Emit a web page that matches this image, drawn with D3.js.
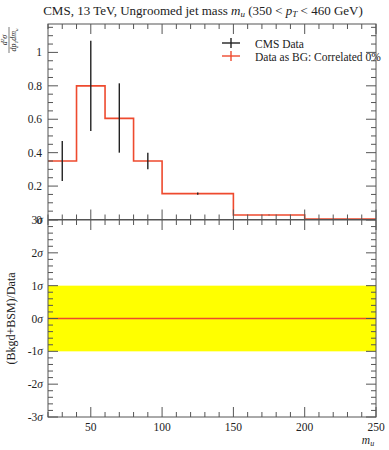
<!DOCTYPE html>
<html>
<head>
<meta charset="utf-8">
<script src="https://cdn.jsdelivr.net/npm/d3@7"></script>
<style>
  body { margin: 0; background: #fff; }
  text { font-family: "Liberation Serif", "DejaVu Serif", serif; fill: #222; }
</style>
</head>
<body>
<div id="container"></div>
<script>
// bin edges and values
const binEdges = [20, 40, 60, 80, 100, 150, 200, 250]
const mcValues = [0.35, 0.80, 0.605, 0.35, 0.155, 0.027, 0.002]
const dataValues = [0.35, 0.80, 0.605, 0.35, 0.155, 0.027, 0.002]
const dataLow = [0.23, 0.53, 0.40, 0.30, 0.148, 0.025, 0.001]
const dataHigh = [0.47, 1.07, 0.815, 0.40, 0.162, 0.029, 0.003]
const xTickLabels = [50, 100, 150, 200, 250]
const yTopLabels = [0, 0.2, 0.4, 0.6, 0.8, 1]
const yBotLabels = [-3, -2, -1, 0, 1, 2, 3]
const legendNames = ["CMS Data", "Data as BG: Correlated 0%"]

const width = 389
const height = 450
const red = "#ee4a2e"

const svg = d3.select("#container").append("svg")
    .attr("width", width)
    .attr("height", height)

const x = d3.scaleLinear().domain([20, 250]).range([48, 376])
const yTop = d3.scaleLinear().domain([0, 1.17]).range([219.5, 24])
const yBot = d3.scaleLinear().domain([-3, 3]).range([417, 220])

// title
const title = svg.append("text")
    .attr("x", 203)
    .attr("y", 15)
    .attr("text-anchor", "middle")
    .attr("font-size", 13)
title.append("tspan").text("CMS, 13 TeV, Ungroomed jet mass ")
title.append("tspan").attr("font-style", "italic").text("m")
title.append("tspan").attr("font-style", "italic").attr("font-size", 9).attr("dy", 2).text("u")
title.append("tspan").attr("dy", -2).text(" (350 < ")
title.append("tspan").attr("font-style", "italic").text("p")
title.append("tspan").attr("font-style", "italic").attr("font-size", 9).attr("dy", 2).text("T")
title.append("tspan").attr("dy", -2).text(" < 460 GeV)")

// lower panel band
svg.append("rect")
    .attr("x", x(20))
    .attr("y", yBot(1))
    .attr("width", x(250) - x(20))
    .attr("height", yBot(-1) - yBot(1))
    .attr("fill", "#ffff00")
svg.append("line")
    .attr("x1", x(20)).attr("x2", x(250))
    .attr("y1", yBot(0)).attr("y2", yBot(0))
    .attr("stroke", red).attr("stroke-width", 1.5)

// histogram step line
const steps = []
mcValues.forEach((v, i) => {
    steps.push([binEdges[i], v])
    steps.push([binEdges[i + 1], v])
})
svg.append("path")
    .attr("d", d3.line().x(d => x(d[0])).y(d => yTop(d[1]))(steps))
    .attr("fill", "none")
    .attr("stroke", red)
    .attr("stroke-width", 1.6)

// data error bars
const centers = mcValues.map((_, i) => (binEdges[i] + binEdges[i + 1]) / 2)
svg.append("g").selectAll("line")
    .data(dataValues)
    .enter().append("line")
    .attr("x1", (d, i) => x(centers[i]))
    .attr("x2", (d, i) => x(centers[i]))
    .attr("y1", (d, i) => yTop(dataLow[i]))
    .attr("y2", (d, i) => yTop(dataHigh[i]))
    .attr("stroke", "#222")
    .attr("stroke-width", 1.4)

// frames
const axisColor = "#555"
function frame(y0, y1) {
    svg.append("rect")
        .attr("x", x(20)).attr("y", y0)
        .attr("width", x(250) - x(20)).attr("height", y1 - y0)
        .attr("fill", "none").attr("stroke", axisColor).attr("stroke-width", 1)
}
frame(yTop.range()[1], yTop.range()[0])
frame(yBot.range()[1], yBot.range()[0])

// x ticks on both panels
const xMinor = d3.range(20, 251, 10)
function xTicks(yEdge, dir) {
    svg.append("g").selectAll("line")
        .data(xMinor)
        .enter().append("line")
        .attr("x1", d => x(d)).attr("x2", d => x(d))
        .attr("y1", yEdge)
        .attr("y2", d => yEdge + dir * (d % 50 === 0 ? 10 : 5))
        .attr("stroke", axisColor)
}
xTicks(yTop.range()[0], -1)
xTicks(yTop.range()[1], 1)
xTicks(yBot.range()[1], 1)
xTicks(yBot.range()[0], -1)

// y ticks
function yTicks(scale, minorStep, majorStep) {
    const [lo, hi] = scale.domain()
    const vals = d3.range(Math.ceil(lo / minorStep - 1e-6), Math.floor(hi / minorStep + 1e-6) + 1).map(k => k * minorStep)
    const isMajor = d => Math.abs(d / majorStep - Math.round(d / majorStep)) < 1e-6
    const g = svg.append("g")
    g.selectAll(".l").data(vals).enter().append("line")
        .attr("x1", x(20)).attr("x2", d => x(20) + (isMajor(d) ? 10 : 5))
        .attr("y1", d => scale(d)).attr("y2", d => scale(d))
        .attr("stroke", axisColor)
    g.selectAll(".r").data(vals).enter().append("line")
        .attr("x1", x(250)).attr("x2", d => x(250) - (isMajor(d) ? 10 : 5))
        .attr("y1", d => scale(d)).attr("y2", d => scale(d))
        .attr("stroke", axisColor)
}
yTicks(yTop, 0.05, 0.2)
yTicks(yBot, 0.2, 1)

// tick labels
svg.append("g").selectAll("text")
    .data(yTopLabels)
    .enter().append("text")
    .attr("x", 42)
    .attr("y", d => yTop(d) + 4)
    .attr("text-anchor", "end")
    .attr("font-size", 11.5)
    .text(d => d)

const botLab = svg.append("g").selectAll("text")
    .data(yBotLabels)
    .enter().append("text")
    .attr("x", 43)
    .attr("y", d => yBot(d) + 4)
    .attr("text-anchor", "end")
    .attr("font-size", 11.5)
botLab.append("tspan").text(d => d)
botLab.append("tspan").attr("font-style", "italic").text("\u03c3")

svg.append("g").selectAll("text")
    .data(xTickLabels)
    .enter().append("text")
    .attr("x", d => x(d))
    .attr("y", 431)
    .attr("text-anchor", "middle")
    .attr("font-size", 11.5)
    .text(d => d)

// axis labels
const xl = svg.append("text")
    .attr("x", 368).attr("y", 444)
    .attr("text-anchor", "middle")
    .attr("font-size", 11.5)
    .attr("font-style", "italic")
xl.append("tspan").text("m")
xl.append("tspan").attr("font-size", 8).attr("dy", 2).text("u")

svg.append("text")
    .attr("transform", `translate(15, ${yBot(0)}) rotate(-90)`)
    .attr("text-anchor", "middle")
    .attr("font-size", 12)
    .text("(Bkgd+BSM)/Data")

const yl = svg.append("g").attr("transform", "translate(9, 40) rotate(-90)")
const num = yl.append("text").attr("x", 0).attr("y", -2).attr("text-anchor", "middle")
    .attr("font-size", 8).attr("font-style", "italic")
num.append("tspan").text("d")
num.append("tspan").attr("font-size", 5).attr("dy", -3).text("2")
num.append("tspan").attr("dy", 3).text("\u03c3")
yl.append("line").attr("x1", -13).attr("x2", 13).attr("y1", 0).attr("y2", 0)
    .attr("stroke", "#222").attr("stroke-width", 0.6)
const den = yl.append("text").attr("x", 0).attr("y", 7).attr("text-anchor", "middle")
    .attr("font-size", 8).attr("font-style", "italic")
den.append("tspan").text("dp")
den.append("tspan").attr("font-size", 5).attr("dy", 1.5).text("T")
den.append("tspan").attr("dy", -1.5).text("dm")
den.append("tspan").attr("font-size", 5).attr("dy", 1.5).text("u")

// legend
const legColors = ["#222", red]
const leg = svg.append("g").selectAll("g")
    .data(legendNames)
    .enter().append("g")
    .attr("transform", (d, i) => `translate(222, ${43 + i * 13})`)
leg.append("line")
    .attr("x1", 0).attr("x2", 18).attr("y1", 0).attr("y2", 0)
    .attr("stroke", (d, i) => legColors[i]).attr("stroke-width", 1.4)
leg.append("line")
    .attr("x1", 9).attr("x2", 9).attr("y1", -5).attr("y2", 5)
    .attr("stroke", (d, i) => legColors[i]).attr("stroke-width", 1.4)
leg.append("text")
    .attr("x", 33).attr("y", 4.5)
    .attr("font-size", 11.5)
    .text(d => d)
</script>
</body>
</html>
